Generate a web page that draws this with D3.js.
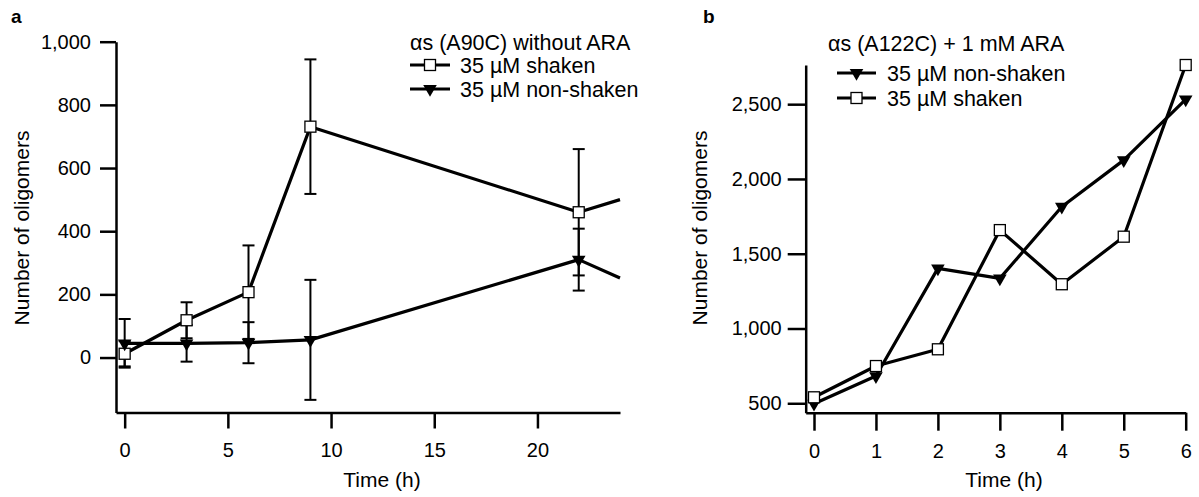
<!DOCTYPE html>
<meta charset="utf-8">
<script src="https://d3js.org/d3.v7.min.js"></script>
<style>
  body { margin: 0; background: #fff; }
  text { font-family: "Liberation Sans", Arial, sans-serif; fill: #000; }
</style>
<div id="chart"></div>
<script>
// ---- panel a data (time in h) ----
var timesA = [0, 3, 6, 9, 22, 24];
var shakenA = [12, 118, 207, 731, 460, 500];
var shakenErrA = [40, 57, 148, 213, 200, null];
var nonShakenA = [45, 45, 47, 56, 310, 252];
var nonShakenErrA = [77, 58, 65, 190, 98, null];
var yTicksA = [0, 200, 400, 600, 800, 1000];
var xTicksA = [0, 5, 10, 15, 20];

// ---- panel b data ----
var timesB = [0, 1, 2, 3, 4, 5, 6];
var nonShakenB = [497, 682, 1402, 1335, 1814, 2126, 2532];
var shakenB = [540, 749, 861, 1658, 1296, 1614, 2762];
var yTicksB = [500, 1000, 1500, 2000, 2500];
var xTicksB = [0, 1, 2, 3, 4, 5, 6];

var svg = d3.select("#chart").append("svg")
  .attr("width", 1199).attr("height", 497);

function pts(times, vals, errs) {
  return times.map(function(t, i) { return {t: t, v: vals[i], e: errs ? errs[i] : 0}; });
}

function drawSquare(g, x, y) {
  g.append("rect").attr("x", x - 5.5).attr("y", y - 5.5).attr("width", 11).attr("height", 11)
    .attr("fill", "#fff").attr("stroke", "#000").attr("stroke-width", 1.3);
}
function drawTri(g, x, y) {
  g.append("path").attr("d", d3.symbol().type(d3.symbolTriangle).size(80)())
    .attr("transform", "translate(" + x + "," + y + ") rotate(180)")
    .attr("fill", "#000");
}

function panel(opt) {
  var g = svg.append("g");
  var x = d3.scaleLinear().domain(opt.xDom).range(opt.xRange);
  var y = d3.scaleLinear().domain(opt.yDom).range(opt.yRange);

  // axes
  var xa = g.append("g").attr("transform", "translate(0," + opt.yRange[0] + ")")
    .call(d3.axisBottom(x).tickValues(opt.xTicks).tickSize(opt.tick).tickSizeOuter(0).tickPadding(opt.xPad).tickFormat(d3.format("d")));
  var ya = g.append("g").attr("transform", "translate(" + opt.xRange[0] + ",0)")
    .call(d3.axisLeft(y).tickValues(opt.yTicks).tickSize(opt.tick).tickSizeOuter(0).tickPadding(opt.yPad).tickFormat(d3.format(",")));
  [xa, ya].forEach(function(a) {
    a.select(".domain").attr("stroke-width", 2.5);
    a.selectAll(".tick line").attr("stroke-width", 2.5);
    a.selectAll("text").attr("font-size", 20).attr("font-family", "Liberation Sans, Arial, sans-serif");
  });

  // axis titles
  g.append("text").attr("x", opt.xLabelX).attr("y", 480).attr("dy", "0.35em")
    .attr("text-anchor", "middle").attr("font-size", 21).text("Time (h)");
  g.append("text").attr("transform", "translate(" + opt.yLabelX + ",228) rotate(-90)")
    .attr("dy", "0.35em").attr("text-anchor", "middle").attr("font-size", 21).text("Number of oligomers");
  g.append("text").attr("x", opt.tagX).attr("y", 23).attr("font-size", 19).attr("font-weight", "bold").text(opt.tag);

  var line = d3.line().x(function(d) { return x(d.t); }).y(function(d) { return y(d.v); });

  // error bars
  opt.series.forEach(function(s) {
    s.data.forEach(function(d) {
      if (!d.e) return;
      var cx = x(d.t), y0 = y(d.v - d.e), y1 = y(d.v + d.e);
      g.append("line").attr("x1", cx).attr("x2", cx).attr("y1", y0).attr("y2", y1).attr("stroke", "#000").attr("stroke-width", 2);
      [y0, y1].forEach(function(yy) {
        g.append("line").attr("x1", cx - 6).attr("x2", cx + 6).attr("y1", yy).attr("y2", yy).attr("stroke", "#000").attr("stroke-width", 2);
      });
    });
  });
  // lines
  opt.series.forEach(function(s) {
    g.append("path").datum(s.data).attr("d", line).attr("fill", "none")
      .attr("stroke", "#000").attr("stroke-width", 3.2).attr("stroke-linejoin", "round");
  });
  // markers
  opt.series.forEach(function(s) {
    s.data.forEach(function(d) {
      if (d.e === null) return;
      (s.marker === "square" ? drawSquare : drawTri)(g, x(d.t), y(d.v));
    });
  });

  // legend
  var L = opt.legend;
  g.append("text").attr("x", L.x).attr("y", L.titleY).attr("dy", "0.35em").attr("font-size", 21.5).text(L.title);
  L.rows.forEach(function(r, i) {
    var ry = L.rowY[i];
    g.append("line").attr("x1", L.x + L.lx0).attr("x2", L.x + L.lx1).attr("y1", ry).attr("y2", ry)
      .attr("stroke", "#000").attr("stroke-width", 3.2);
    var mx = L.x + (L.lx0 + L.lx1) / 2;
    (r.marker === "square" ? drawSquare : drawTri)(g, mx, ry);
    g.append("text").attr("x", L.x + L.tx).attr("y", ry).attr("dy", "0.35em").attr("font-size", 21.5).text(r.label);
  });
}

panel({
  tag: "a", tagX: 11,
  xDom: [-0.42, 24], xRange: [116, 620],
  yDom: [-174, 1000], yRange: [412.5, 41.7],
  xTicks: xTicksA, yTicks: yTicksA, tick: 16, xPad: 14, yPad: 9,
  xLabelX: 382, yLabelX: 22,
  series: [
    {marker: "square", data: pts(timesA, shakenA, shakenErrA)},
    {marker: "tri", data: pts(timesA, nonShakenA, nonShakenErrA)}
  ],
  legend: {x: 410, titleY: 42, rowY: [65, 89], lx0: 0, lx1: 40, tx: 50,
    title: "\u03b1s (A90C) without ARA",
    rows: [{marker: "square", label: "35 \u00b5M shaken"}, {marker: "tri", label: "35 \u00b5M non-shaken"}]}
});

panel({
  tag: "b", tagX: 703,
  xDom: [-0.134, 6], xRange: [805.7, 1185.7],
  yDom: [437, 2762], yRange: [412.7, 65],
  xTicks: xTicksB, yTicks: yTicksB, tick: 18, xPad: 13, yPad: 6,
  xLabelX: 1004, yLabelX: 700,
  series: [
    {marker: "tri", data: pts(timesB, nonShakenB, null)},
    {marker: "square", data: pts(timesB, shakenB, null)}
  ],
  legend: {x: 828, titleY: 43, rowY: [73, 98], lx0: 9, lx1: 48, tx: 59,
    title: "\u03b1s (A122C) + 1 mM ARA",
    rows: [{marker: "tri", label: "35 \u00b5M non-shaken"}, {marker: "square", label: "35 \u00b5M shaken"}]}
});
</script>
